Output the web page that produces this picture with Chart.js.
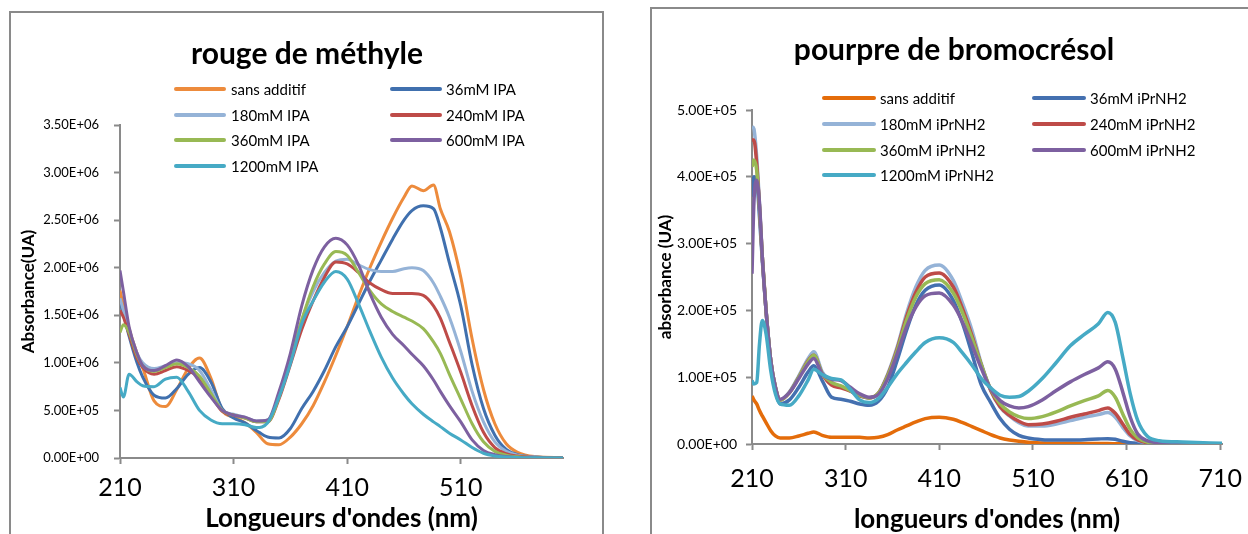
<!DOCTYPE html>
<html lang="fr">
<head>
<meta charset="utf-8">
<title>rouge de méthyle / pourpre de bromocrésol</title>
<script src="https://cdn.jsdelivr.net/npm/chart.js@4.4.1/dist/chart.umd.min.js"></script>
<style>
  html, body { margin: 0; padding: 0; background: #fff; }
  body { width: 1248px; height: 534px; position: relative; overflow: hidden; font-family: Lato, "Open Sans", sans-serif; color: #000; }
  .panel { position: absolute; border: 2px solid #8a8a8a; border-bottom: none; box-sizing: border-box; }
  #panelA { left: 9px; top: 11px; width: 595px; height: 540px; }
  #panelB { left: 650px; top: 7px; width: 640px; height: 540px; }
  canvas { position: absolute; top: 0; }
  #chartA { left: 0; }
  #chartB { left: 640px; }
  .title { position: absolute; font-weight: bold; font-size: 30px; white-space: nowrap; transform: translate(-50%, -50%); line-height: 1; }
  .leg { position: absolute; display: flex; align-items: center; font-size: 15px; white-space: nowrap; transform: translateY(-50%); }
  .leg i { display: inline-block; height: 4px; border-radius: 2px; }
</style>
</head>
<body>
<div class="panel" id="panelA"></div>
<div class="panel" id="panelB"></div>
<canvas id="chartA" width="625" height="534"></canvas>
<canvas id="chartB" width="608" height="534"></canvas>
<div class="title" style="left:307px; top:52px;">rouge de méthyle</div>
<div class="title" style="left:954px; top:48px;">pourpre de bromocrésol</div>

<script>
"use strict"

// ---- rouge de méthyle (values in 1E+06) ----
const wavelengthsA = [210, 213, 218, 225, 230, 240, 250, 260, 270, 280, 290, 300, 310, 320, 330, 340, 350, 360, 370, 380, 390, 400, 410, 420, 430, 440, 450, 460, 467, 477, 486, 492, 500, 510, 520, 530, 540, 550, 560, 575, 600];
const labelsA = ["sans additif", "36mM IPA", "180mM IPA", "240mM IPA", "360mM IPA", "600mM IPA", "1200mM IPA"];
const sansAdditifA = [1.76, 1.60, 1.36, 1.10, 0.95, 0.60, 0.54, 0.72, 0.94, 1.05, 0.84, 0.50, 0.43, 0.37, 0.27, 0.15, 0.14, 0.22, 0.36, 0.55, 0.80, 1.08, 1.38, 1.70, 2.00, 2.27, 2.52, 2.74, 2.86, 2.81, 2.87, 2.62, 2.38, 1.90, 1.25, 0.72, 0.36, 0.15, 0.06, 0.015, 0.003];
const ipa36 = [1.65, 1.52, 1.28, 1.00, 0.85, 0.66, 0.63, 0.73, 0.88, 0.95, 0.80, 0.52, 0.42, 0.37, 0.29, 0.22, 0.21, 0.31, 0.52, 0.70, 0.92, 1.17, 1.38, 1.62, 1.86, 2.08, 2.30, 2.50, 2.60, 2.65, 2.62, 2.42, 2.05, 1.60, 0.98, 0.52, 0.24, 0.09, 0.035, 0.01, 0.002];
const ipa180 = [1.68, 1.55, 1.35, 1.10, 1.00, 0.94, 0.97, 1.00, 0.99, 0.92, 0.72, 0.50, 0.46, 0.43, 0.39, 0.40, 0.66, 1.06, 1.45, 1.75, 1.95, 2.07, 2.09, 2.03, 1.98, 1.96, 1.96, 1.99, 2.00, 1.97, 1.84, 1.70, 1.48, 1.12, 0.70, 0.38, 0.17, 0.07, 0.03, 0.01, 0.002];
const ipa240 = [1.55, 1.48, 1.30, 1.05, 0.95, 0.88, 0.92, 0.96, 0.92, 0.84, 0.66, 0.49, 0.45, 0.42, 0.38, 0.38, 0.62, 0.98, 1.35, 1.65, 1.90, 2.06, 2.04, 1.95, 1.84, 1.77, 1.73, 1.73, 1.73, 1.71, 1.60, 1.47, 1.22, 0.90, 0.55, 0.27, 0.11, 0.045, 0.02, 0.006, 0.002];
const ipa360 = [1.32, 1.40, 1.32, 1.08, 0.97, 0.91, 0.95, 0.99, 0.95, 0.86, 0.68, 0.50, 0.45, 0.42, 0.38, 0.38, 0.64, 1.02, 1.45, 1.80, 2.04, 2.17, 2.13, 1.95, 1.76, 1.62, 1.54, 1.48, 1.44, 1.36, 1.22, 1.10, 0.88, 0.62, 0.36, 0.17, 0.07, 0.03, 0.012, 0.004, 0.001];
const ipa600 = [1.97, 1.75, 1.38, 1.10, 0.97, 0.92, 0.97, 1.03, 0.96, 0.80, 0.64, 0.50, 0.45, 0.43, 0.39, 0.40, 0.70, 1.10, 1.60, 1.98, 2.22, 2.31, 2.24, 2.03, 1.73, 1.48, 1.30, 1.18, 1.09, 0.97, 0.82, 0.70, 0.55, 0.38, 0.19, 0.08, 0.035, 0.015, 0.006, 0.002, 0.001];
const ipa1200 = [0.74, 0.64, 0.88, 0.80, 0.76, 0.75, 0.83, 0.85, 0.70, 0.50, 0.40, 0.36, 0.36, 0.35, 0.32, 0.37, 0.64, 0.99, 1.41, 1.65, 1.85, 1.96, 1.88, 1.62, 1.33, 1.06, 0.84, 0.67, 0.57, 0.46, 0.38, 0.33, 0.26, 0.19, 0.11, 0.05, 0.022, 0.01, 0.005, 0.002, 0.001];
const xTicksA = [210, 310, 410, 510];

// ---- pourpre de bromocrésol (values in 1E+05) ----
const wavelengthsB = [210, 212, 215, 218, 221, 225, 230, 235, 240, 250, 260, 270, 276, 285, 295, 305, 315, 325, 335, 345, 355, 365, 375, 385, 395, 410, 425, 435, 445, 455, 465, 475, 485, 495, 505, 520, 535, 550, 565, 580, 590, 598, 606, 614, 622, 632, 645, 670, 712];
const labelsB = ["sans additif", "36mM iPrNH2", "180mM iPrNH2", "240mM iPrNH2", "360mM iPrNH2", "600mM iPrNH2", "1200mM iPrNH2"];
const sansAdditifB = [0.72, 0.66, 0.60, 0.50, 0.42, 0.32, 0.20, 0.12, 0.09, 0.09, 0.12, 0.16, 0.18, 0.13, 0.10, 0.10, 0.10, 0.10, 0.09, 0.10, 0.14, 0.21, 0.27, 0.33, 0.38, 0.40, 0.37, 0.32, 0.26, 0.20, 0.14, 0.09, 0.06, 0.04, 0.025, 0.015, 0.01, 0.01, 0.008, 0.006, 0.006, 0.005, 0.004, 0.003, 0.002, 0.001, 0.001, 0, 0];
const amine36 = [3.70, 4.00, 3.95, 3.40, 2.75, 2.00, 1.25, 0.80, 0.60, 0.66, 0.85, 1.08, 1.17, 0.95, 0.70, 0.67, 0.64, 0.60, 0.58, 0.64, 0.85, 1.25, 1.70, 2.08, 2.30, 2.38, 2.15, 1.80, 1.35, 0.88, 0.62, 0.38, 0.22, 0.13, 0.09, 0.065, 0.06, 0.06, 0.065, 0.075, 0.08, 0.07, 0.04, 0.02, 0.01, 0.005, 0.003, 0.002, 0];
const amine180 = [4.75, 4.72, 4.30, 3.60, 2.80, 2.00, 1.25, 0.85, 0.66, 0.78, 1.02, 1.28, 1.38, 1.08, 0.92, 0.86, 0.80, 0.72, 0.69, 0.76, 1.05, 1.45, 1.95, 2.35, 2.60, 2.68, 2.45, 2.10, 1.70, 1.20, 0.80, 0.55, 0.42, 0.32, 0.27, 0.27, 0.30, 0.35, 0.40, 0.44, 0.47, 0.40, 0.25, 0.12, 0.05, 0.02, 0.01, 0.005, 0];
const amine240 = [4.55, 4.55, 4.20, 3.55, 2.80, 2.00, 1.25, 0.85, 0.66, 0.77, 1.00, 1.25, 1.33, 1.05, 0.88, 0.84, 0.79, 0.72, 0.69, 0.76, 1.03, 1.42, 1.90, 2.27, 2.50, 2.56, 2.35, 2.02, 1.62, 1.18, 0.80, 0.56, 0.43, 0.34, 0.29, 0.30, 0.34, 0.40, 0.45, 0.50, 0.54, 0.46, 0.30, 0.14, 0.06, 0.02, 0.01, 0.005, 0];
const amine360 = [4.15, 4.25, 4.10, 3.55, 2.80, 2.00, 1.25, 0.85, 0.66, 0.77, 1.00, 1.24, 1.33, 1.05, 0.92, 0.87, 0.80, 0.73, 0.69, 0.76, 1.02, 1.40, 1.85, 2.20, 2.40, 2.46, 2.26, 1.96, 1.58, 1.18, 0.82, 0.60, 0.48, 0.41, 0.38, 0.41, 0.48, 0.57, 0.65, 0.72, 0.80, 0.70, 0.45, 0.22, 0.09, 0.03, 0.01, 0.005, 0];
const amine600 = [2.55, 3.60, 3.95, 3.60, 2.80, 2.00, 1.25, 0.85, 0.67, 0.77, 0.98, 1.20, 1.28, 1.05, 0.97, 0.95, 0.85, 0.75, 0.70, 0.74, 0.98, 1.35, 1.75, 2.05, 2.22, 2.26, 2.08, 1.82, 1.48, 1.13, 0.82, 0.65, 0.57, 0.54, 0.56, 0.66, 0.80, 0.93, 1.04, 1.14, 1.23, 1.12, 0.78, 0.40, 0.15, 0.05, 0.02, 0.01, 0];
const amine1200 = [0.95, 0.90, 0.92, 1.50, 1.85, 1.65, 1.10, 0.75, 0.60, 0.58, 0.72, 0.96, 1.12, 1.04, 0.98, 0.96, 0.82, 0.66, 0.62, 0.68, 0.85, 1.05, 1.22, 1.38, 1.52, 1.59, 1.52, 1.36, 1.18, 0.98, 0.84, 0.73, 0.70, 0.71, 0.79, 0.98, 1.22, 1.47, 1.64, 1.80, 1.97, 1.82, 1.30, 0.75, 0.35, 0.12, 0.05, 0.03, 0.01];
const xTicksB = [210, 310, 410, 510, 610, 710];

const colorsA = ["#ED8B3C", "#4070AE", "#95B3D7", "#BE4B48", "#98B954", "#7D60A0", "#46AAC5"];
const colorsB = ["#E46C0A", "#4470B0", "#95B3D7", "#BE4B48", "#98B954", "#7D60A0", "#46AAC5"];
const axisColor = "#8a8a8a";

// 3.50E+06 style labels
const sci = (v) => {
    const [m, e] = v.toExponential(2).split("e");
    const n = parseInt(e, 10);
    return m + "E" + (n < 0 ? "-" : "+") + String(Math.abs(n)).padStart(2, "0");
};

const buildDatasets = (wl, series, labels, colors, unit, lw) =>
    series.map((vals, i) => ({
        label: labels[i],
        data: vals.map((v, k) => ({ x: wl[k], y: v * unit })),
        borderColor: colors[i],
        borderWidth: lw,
        pointRadius: 0,
        cubicInterpolationMode: "monotone",
        fill: false,
        order: series.length - i
    }));

const makeChart = (id, cfg) => {
    return new Chart(document.getElementById(id), {
        type: "line",
        data: { datasets: cfg.datasets },
        options: {
            responsive: false,
            animation: false,
            events: [],
            layout: { padding: cfg.padding },
            plugins: { legend: { display: false }, tooltip: { enabled: false } },
            scales: {
                x: {
                    type: "linear",
                    min: cfg.xMin,
                    max: cfg.xMax,
                    afterBuildTicks: (s) => { s.ticks = cfg.xTicks.map(v => ({ value: v })); },
                    afterFit: (s) => { s.height = cfg.xHeight; s.paddingLeft = 0; s.paddingRight = 0; },
                    grid: { drawOnChartArea: false, drawTicks: true, tickLength: 6, tickColor: axisColor, tickWidth: 2 },
                    border: { color: axisColor, width: 2 },
                    ticks: { color: "#000", font: { family: "Lato", size: 25 }, padding: cfg.xTickPad, maxRotation: 0, callback: (v) => String(v) },
                    title: { display: true, text: cfg.xTitle, color: "#000", font: { family: "Lato", size: 26, weight: "bold", lineHeight: 1 }, padding: { top: 0, bottom: cfg.xTitlePad } }
                },
                y: {
                    min: 0,
                    max: cfg.yMax,
                    afterFit: (s) => { s.width = cfg.yWidth; },
                    grid: { drawOnChartArea: false, drawTicks: true, tickLength: 6, tickColor: axisColor, tickWidth: 2 },
                    border: { color: axisColor, width: 2 },
                    ticks: { stepSize: cfg.yStep, color: "#000", font: { family: "Lato", size: cfg.yTickSize }, padding: cfg.yTickPad, callback: (v) => sci(v) },
                    title: { display: true, text: cfg.yTitle, color: "#000", font: { family: "Lato", size: 17, weight: "bold", lineHeight: 1 }, padding: { top: cfg.yTitlePad, bottom: 0 } }
                }
            }
        }
    });
};

const addLegend = (labels, colors, cols, rows, lineW) => {
    labels.forEach((lab, i) => {
        const c = cols[i % 2];
        const item = document.createElement("div");
        item.className = "leg";
        item.style.left = c[0] + "px";
        item.style.top = rows[Math.floor(i / 2)] + "px";
        const sw = document.createElement("i");
        sw.style.width = lineW + "px";
        sw.style.background = colors[i];
        sw.style.marginRight = (c[1] - c[0] - lineW) + "px";
        item.appendChild(sw);
        item.appendChild(document.createTextNode(lab));
        document.body.appendChild(item);
    });
};

document.fonts.load("bold 20px Lato").then(() => document.fonts.load("20px Lato")).finally(() => {
    makeChart("chartA", {
        datasets: buildDatasets(wavelengthsA, [sansAdditifA, ipa36, ipa180, ipa240, ipa360, ipa600, ipa1200], labelsA, colorsA, 1e6, 3),
        padding: { left: 0, top: 125, right: 62, bottom: 0 },
        xMin: 210, xMax: 600, xTicks: xTicksA, xHeight: 76, xTickPad: 9, xTitle: "Longueurs d'ondes (nm)", xTitlePad: 2,
        yMax: 3.5e6, yStep: 0.5e6, yWidth: 120, yTickSize: 13, yTickPad: 15, yTitle: "Absorbance(UA)", yTitlePad: 20
    });
    makeChart("chartB", {
        datasets: buildDatasets(wavelengthsB, [sansAdditifB, amine36, amine180, amine240, amine360, amine600, amine1200], labelsB, colorsB, 1e5, 3.5),
        padding: { left: 0, top: 110, right: 26, bottom: 0 },
        xMin: 210, xMax: 712, xTicks: xTicksB, xHeight: 90, xTickPad: 14, xTitle: "longueurs d'ondes (nm)", xTitlePad: 1,
        yMax: 5e5, yStep: 1e5, yWidth: 112, yTickSize: 14, yTickPad: 9, yTitle: "absorbance (UA)", yTitlePad: 17
    });
    addLegend(labelsA, colorsA, [[174, 231], [390, 446]], [89, 114.5, 140, 165.5], 52);
    addLegend(labelsB, colorsB, [[822, 880], [1032, 1090]], [98, 124, 150, 175], 54);
});
</script>
</body>
</html>
